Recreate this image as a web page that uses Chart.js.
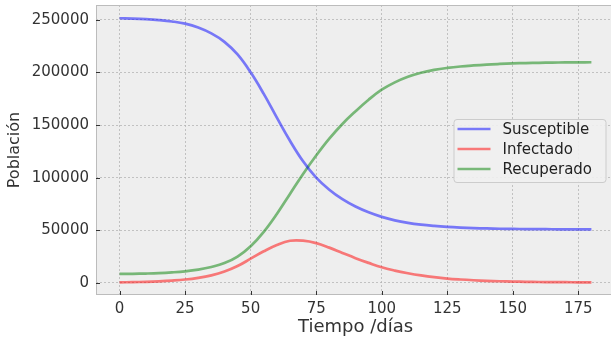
<!DOCTYPE html>
<html>
<head>
<meta charset="utf-8">
<script src="https://cdn.jsdelivr.net/npm/chart.js@4.4.1/dist/chart.umd.min.js"></script>
<style>
    html, body { margin: 0; padding: 0; background: #fff; overflow: hidden; }
    #wrap { position: relative; width: 615px; height: 340px; }
</style>
</head>
<body>
<div id="wrap"><canvas id="sir"></canvas></div>
<script>
// Modelo SIR: población por día (cada 5 días)
const days = [0, 5, 10, 15, 20, 25, 30, 35, 40, 45, 50, 55, 60, 65, 70, 75, 80, 85, 90,
    95, 100, 105, 110, 115, 120, 125, 130, 135, 140, 145, 150, 155, 160, 165, 170, 175, 180];

const susceptible = [251400, 251050, 250500, 249650, 248350, 246300, 242600, 237000, 229000,
    217000, 200000, 179500, 157000, 135000, 115500, 100000, 88500, 79500, 72500, 67000, 62700,
    59400, 57000, 55300, 54100, 53200, 52550, 52070, 51720, 51460, 51270, 51130, 51030, 50955,
    50900, 50860, 50830];

const infectado = [500, 720, 1050, 1530, 2220, 3200, 4800, 7200, 10800, 16000, 23000, 30000,
    36000, 40000, 40100, 37800, 33500, 28500, 23500, 19000, 14800, 11700, 9200, 7100, 5400,
    4100, 3200, 2500, 1950, 1550, 1250, 1030, 870, 750, 650, 580, 520];

const recuperado = [8500, 8650, 8900, 9300, 10000, 11000, 12600, 15100, 18800, 25000, 34800,
    48500, 65500, 84500, 103500, 121000, 137000, 151000, 163000, 174000, 183500, 190500, 195800,
    199600, 202300, 204200, 205600, 206600, 207400, 208000, 208500, 208850, 209100, 209300,
    209450, 209550, 209600];

const xTicks = [0, 25, 50, 75, 100, 125, 150, 175];
const yTicks = [0, 50000, 100000, 150000, 200000, 250000];

const FONT = 'DejaVu Sans';
const series = [
    { label: 'Susceptible', values: susceptible, color: 'rgba(0, 0, 255, 0.5)' },
    { label: 'Infectado', values: infectado, color: 'rgba(255, 0, 0, 0.5)' },
    { label: 'Recuperado', values: recuperado, color: 'rgba(0, 128, 0, 0.5)' },
];

// fondo gris, marco, marcas hacia dentro y leyenda al estilo bmh
const bmhPlugin = {
    id: 'bmh',
    beforeDraw(chart) {
        const { ctx, chartArea: a } = chart;
        ctx.save();
        ctx.fillStyle = '#eeeeee';
        ctx.fillRect(a.left, a.top, a.right - a.left, a.bottom - a.top);
        ctx.restore();
    },
    afterDraw(chart) {
        const { ctx, chartArea: a, scales } = chart;
        ctx.save();
        ctx.strokeStyle = '#bcbcbc';
        ctx.lineWidth = 1;
        ctx.strokeRect(a.left + 0.5, a.top + 0.5, a.right - a.left - 1, a.bottom - a.top - 1);

        ctx.strokeStyle = '#333';
        ctx.beginPath();
        xTicks.forEach((t) => {
            const x = Math.round(scales.x.getPixelForValue(t)) + 0.5;
            ctx.moveTo(x, a.bottom);
            ctx.lineTo(x, a.bottom - 4);
        });
        yTicks.forEach((t) => {
            const y = Math.round(scales.y.getPixelForValue(t)) + 0.5;
            ctx.moveTo(a.left, y);
            ctx.lineTo(a.left + 4, y);
        });
        ctx.stroke();

        // leyenda
        const w = 152, h = 63;
        const lx = a.right - 9.5 - w, ly = a.top + 114;
        ctx.beginPath();
        ctx.roundRect(lx + 0.5, ly + 0.5, w, h, 3);
        ctx.fillStyle = 'rgba(240, 240, 240, 0.9)';
        ctx.fill();
        ctx.strokeStyle = '#cccccc';
        ctx.stroke();
        ctx.font = `15px "${FONT}"`;
        ctx.textBaseline = 'middle';
        chart.data.datasets.forEach((ds, i) => {
            const y = ly + 10 + i * 20;
            ctx.strokeStyle = ds.borderColor;
            ctx.lineWidth = 2.7;
            ctx.beginPath();
            ctx.moveTo(lx + 4, y);
            ctx.lineTo(lx + 37, y);
            ctx.stroke();
            ctx.fillStyle = '#222';
            ctx.fillText(ds.label, lx + 49, y + 1);
        });
        ctx.restore();
    },
};

new Chart(document.getElementById('sir'), {
    type: 'line',
    data: {
        datasets: series.map((s) => ({
            label: s.label,
            data: days.map((d, i) => ({ x: d, y: s.values[i] })),
            borderColor: s.color,
            borderWidth: 2.7,
            pointRadius: 0,
            fill: false,
            tension: 0.4,
        })),
    },
    options: {
        responsive: true,
        maintainAspectRatio: false,
        animation: false,
        layout: { padding: { top: 5, right: 0, left: 0, bottom: 0 } },
        plugins: { legend: { display: false }, tooltip: { enabled: false } },
        scales: {
            x: {
                type: 'linear',
                min: -9,
                max: 189,
                afterBuildTicks: (scale) => { scale.ticks = xTicks.map((v) => ({ value: v })); },
                afterFit: (scale) => {
                    scale.height = 45;
                    scale.paddingLeft = 0;
                    scale.paddingRight = 0;
                },
                grid: { color: 'rgba(178,178,178,0.75)', lineWidth: 1, drawTicks: false },
                border: { display: false, dash: [2, 2] },
                ticks: {
                    color: '#333',
                    font: { family: FONT, size: 15 },
                    padding: 5,
                    maxRotation: 0,
                    callback: (v) => String(v),
                },
                title: {
                    display: true,
                    text: 'Tiempo /días',
                    color: '#333',
                    font: { family: FONT, size: 18 },
                    padding: { top: 0, bottom: 2 },
                },
            },
            y: {
                type: 'linear',
                min: -11500,
                max: 264000,
                afterBuildTicks: (scale) => { scale.ticks = yTicks.map((v) => ({ value: v })); },
                afterFit: (scale) => {
                    scale.width = 96;
                    scale.paddingTop = 0;
                    scale.paddingBottom = 0;
                },
                grid: { color: 'rgba(178,178,178,0.75)', lineWidth: 1, drawTicks: false },
                border: { display: false, dash: [2, 2] },
                ticks: {
                    color: '#333',
                    font: { family: FONT, size: 15 },
                    padding: 7,
                    callback: (v) => String(v),
                },
                title: {
                    display: true,
                    text: 'Población',
                    color: '#333',
                    font: { family: FONT, size: 16 },
                    padding: { top: 5, bottom: 0 },
                },
            },
        },
    },
    plugins: [bmhPlugin],
});
</script>
</body>
</html>
